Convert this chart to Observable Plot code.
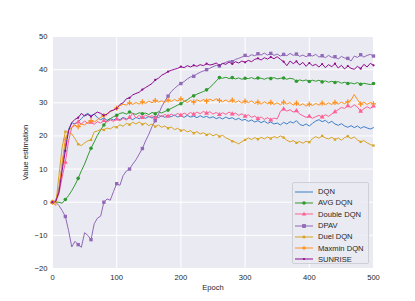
<!DOCTYPE html>
<html>
<head>
<meta charset="utf-8">
<script src="https://cdn.jsdelivr.net/npm/d3@7"></script>
<script src="https://cdn.jsdelivr.net/npm/@observablehq/plot@0.6"></script>
<style>
  html, body { margin: 0; padding: 0; background: #fff; }
  #wrap { position: relative; width: 415px; height: 301px; font-family: "Liberation Sans", Arial, sans-serif; }
  #legend { position: absolute; left: 292px; top: 182px; width: 77px; height: 82px; box-sizing: border-box;
    border: 1px solid #cfcfd6; border-radius: 2px; background: rgba(234,234,242,0.85); padding: 3px 0 0 2px; }
  .row { display: flex; align-items: center; height: 11.3px; font-size: 7.6px; color: #262626; }
  .row svg { margin-right: 5px; }
</style>
</head>
<body>
<div id="wrap"><div id="chart"></div><div id="legend"></div></div>
<script>
// Epochs sampled every 5 epochs (0..500)
const epochs = d3.range(0, 501, 5);
const xTicks = [0, 100, 200, 300, 400, 500];
const yTicks = [-20, -10, 0, 10, 20, 30, 40, 50];

const names = ["DQN", "AVG DQN", "Double DQN", "DPAV", "Duel DQN", "Maxmin DQN", "SUNRISE"];
const colors = ["#3d7fc8", "#2f9a2f", "#ff5f94", "#9169b8", "#d9a320", "#ff8f1c", "#8e0b8e"];

const dqn = [
  0, 0.5, 4, 11, 17, 22, 24, 23.6, 24.3, 25.2,
  26.3, 26.8, 26.1, 26.6, 25.5, 24.9, 25.4, 24.7, 25.2, 24.8,
  25.3, 24.9, 25.6, 25.1, 25.4, 24.9, 25.6, 25.2, 25.8, 25.3,
  25.9, 25.4, 26, 25.5, 26.1, 25.6, 26.2, 25.8, 26.3, 25.7,
  26.1, 25.6, 26.2, 25.7, 26, 25.5, 26.1, 25.6, 25.9, 25.4,
  25.8, 25.2, 25.6, 25.1, 25.7, 25.2, 25.5, 24.9, 25.3, 24.7,
  25, 24.4, 24.8, 24.2, 24.6, 24, 24.5, 23.8, 24.2, 23.6,
  23.9, 23.3, 24.1, 23.6, 24.3, 23.9, 24.6, 23.5, 23.1, 23.6,
  23, 23.8, 24.5, 24.9, 24.3, 24.7, 23.9, 24.4, 23.6, 23.2,
  23.7, 23, 22.6, 23.1, 22.5, 23, 22.3, 22.8, 22.4, 22.1,
  22.5
];
const avgDqn = [
  0, 0, 0, -0.3, 0.8, 2, 3.5, 5.2, 7.2, 9.5,
  11.5, 14, 16.3, 18.2, 20.2, 21.8, 23.3, 24.6, 25.2, 25.8,
  26.2, 26.8, 27, 26.6, 27.2, 26.8, 26.5, 27, 26.7, 26.9,
  26.4, 27.1, 26.7, 27.3, 26.9, 27.4, 27.8, 28.3, 28.8, 29.3,
  29.7, 30.4, 30.9, 31.6, 32.1, 32.6, 33, 33.4, 33.9, 34.6,
  35.5, 36.6, 37.6, 37.4, 37.7, 37.3, 37.6, 37.2, 37.5, 37.1,
  37.4, 37.3, 37.6, 37.2, 37.5, 37.4, 37.1, 37.5, 37.3, 37.6,
  37.2, 37.4, 37.5, 37.1, 37.4, 37.2, 36.5, 36.9, 36.6, 36.9,
  36.4, 36.8, 36.5, 36.8, 36.3, 36.6, 36.2, 36.5, 36.1, 36.4,
  35.9, 36.2, 35.8, 36, 35.7, 36.1, 35.6, 35.9, 35.7, 35.5,
  35.8
];
const doubleDqn = [
  0, 0.3, 2.5, 7.5, 12, 18.5, 22.5, 23.8, 24.2, 23.6,
  24.5, 23.8, 24.1, 23.5, 24.3, 23.9, 24.6, 24.2, 24.8, 24.4,
  25.1, 24.6, 25.3, 24.8, 25.6, 26.8, 25.4, 26.2, 25.5, 26.3,
  25.7, 26.1, 25.4, 26.4, 25.8, 26.5, 25.9, 26.6, 26.1, 26.8,
  26.2, 26.9, 26.4, 27.1, 26.5, 27.2, 26.7, 27.4, 26.8, 27.3,
  26.6, 27.1, 26.4, 27, 26.5, 27.2, 26.6, 26.9, 26.2, 26.7,
  25.9, 26.4, 25.6, 26, 25.2, 25.7, 25, 25.5, 24.8, 25.4,
  25.1, 27.4, 28.1, 27.5, 27.9, 27.2, 27.6, 26.6, 26.1, 25.6,
  25.9, 25.3, 25.8, 26.2, 25.7, 26.4, 25.9, 26.6, 27.3, 27.9,
  28.6, 28.3, 29.1, 28.6, 29.4, 28.7, 27.4, 28.2, 28.8, 28.3,
  29
];
const dpav = [
  0, 0, -1, -2.5, -4.3, -8.5, -13.5, -11.8, -12.8, -13.6,
  -9.2, -10, -11.3, -6.5, -4.8, -4.2, 0, 1, 0.6, 3.2,
  5.6, 5.1, 8, 9.4, 10, 11.5, 12.8, 14.5, 16.2, 18.5,
  20.5, 22.8, 24.6, 26.5, 28.8, 30.5, 32, 33.4, 34.3, 35.2,
  35.8, 36.4, 37.2, 37.8, 38, 38.7, 39.2, 39.6, 40, 40.4,
  40.9, 41.3, 41.1, 41.8, 42.2, 42.6, 42.4, 43.1, 43.4, 43.8,
  44.3, 43.9, 44.5, 44.2, 44.8, 44.4, 45, 44.4, 44.9, 44.3,
  44.7, 44.1, 44.6, 44.2, 44.9, 44.3, 44.7, 44, 44.4, 43.9,
  44.5, 44.1, 44.6, 43.8, 44.2, 43.6, 44.3, 43.7, 43.9, 43.2,
  44, 43.5, 43.4, 42.6, 44.1, 43.7, 44.5, 43.8, 44.3, 44.6,
  44.1
];
const duelDqn = [
  0, -1, 8, 16.5, 21.3, 21, 20.6, 19.2, 17.5, 17.1,
  17.9, 18.5, 18.8, 21.2, 21.5, 22, 21.8, 22.4, 22.1, 22.8,
  22.6, 23.4, 22.9, 23.8, 23.4, 24.1, 23.6, 24.2, 23.5, 23.9,
  23.1, 23.6, 22.8, 23.3, 22.6, 23, 22.3, 22.7, 21.9, 22.3,
  21.6, 21.9, 21.2, 21.6, 20.8, 21.3, 20.6, 21, 20.3, 20.7,
  20, 20.5, 19.8, 20.2, 19.4, 19, 18.4, 18.1, 17.6, 18.3,
  18.8, 19.4, 18.9, 19.5, 19, 19.6, 19.1, 19.7, 19.2, 19.8,
  19.4, 20, 19.5, 18.7, 18.2, 18.6, 17.9, 18.3, 17.8, 18.4,
  18.1, 19.2, 19.8, 19.3, 20, 19.4, 19.1, 19.6, 18.9, 19.4,
  18.7, 19.5, 19.9, 19.2, 19.7, 18.8, 18.2, 18.6, 17.9, 17.4,
  17.1
];
const maxminDqn = [
  0, 0.2, 3.5, 12, 19, 21.5, 22.6, 23.2, 22.8, 23.6,
  23.3, 24.1, 24.6, 24.2, 24.9, 25.6, 26.1, 26.7, 27.3, 27.8,
  28.4, 29.1, 29.6, 29.3, 30, 29.5, 30.1, 29.6, 30.3, 29.8,
  30.5, 30, 30.7, 30.2, 30.6, 30.1, 30.8, 30.4, 31, 30.5,
  31.2, 30.6, 30.1, 30.7, 30.2, 30.9, 30.4, 31, 30.5, 31.1,
  30.6, 31.2, 30.7, 30.3, 30.9, 30.2, 30.8, 30.1, 30.6, 29.9,
  30.5, 30, 30.6, 29.8, 30.2, 29.6, 30.3, 29.7, 30.1, 29.5,
  30, 29.4, 30.2, 29.6, 30.1, 29.3, 29.9, 29.2, 29.7, 29,
  29.6, 29.2, 29.8, 29.3, 29.9, 29.4, 30, 29.5, 30.1, 29.6,
  30.2, 29.7, 30.3, 30.8, 32.5, 31, 29.6, 30.2, 29.5, 30.1,
  29.7
];
const sunrise = [
  0, 0.2, 3, 9.5, 15.5, 21.5, 24, 25, 25.5, 26.8,
  26, 26.5, 25.8, 26.6, 27.2, 26.8, 26.2, 26.5, 27.5, 27.8,
  28.3, 29.5, 30, 31.2, 31.5, 32.4, 32.8, 33.2, 34, 34.6,
  35.2, 35.8, 36.9, 37.4, 38.3, 38.8, 39.4, 39.8, 40.1, 40.4,
  40.9, 40.6, 41.2, 40.8, 41.3, 41, 41.5, 41.2, 41.8, 41.4,
  41.6, 42, 41.3, 41.9, 41.6, 42.3, 41.7, 42.4, 42, 42.6,
  42.2, 42.8, 42.4, 43.1, 43.4, 42.9, 43.6, 43.2, 43.8, 43.3,
  43.9, 43.1, 42.4, 41.2, 42.6, 41.8, 42.5, 41.4, 42.2, 41,
  42, 41.2, 41.6, 40.8, 41.7, 40.6, 41.5, 40.9, 41.8, 40.5,
  41.3, 40.2, 41.1, 40.4, 40.1, 41, 40.3, 41.6, 40.8, 41.9,
  41.3
];

const seriesValues = [dqn, avgDqn, doubleDqn, dpav, duelDqn, maxminDqn, sunrise];
// marker styles per series (null = no marker)
const markers = [
  null,
  {symbol: "circle", r: 1.8},
  {symbol: "triangle", r: 1.8},
  {symbol: "square", r: 1.9},
  {symbol: "square", r: 1.3},
  {symbol: "plus", r: 1.8},
  {symbol: "circle", r: 1.1}
];

const rows = names.flatMap((n, k) => seriesValues[k].map((v, i) => ({epoch: epochs[i], value: v, name: n})));

const dotMarks = names.map((n, k) => {
  const m = markers[k];
  if (!m) return null;
  const pts = rows.filter(d => d.name === n && d.epoch % 20 === 0);
  if (m.symbol === "plus") {
    return Plot.dot(pts, {x: "epoch", y: "value", symbol: "plus", r: m.r, stroke: colors[k], strokeWidth: 1.2});
  }
  return Plot.dot(pts, {x: "epoch", y: "value", symbol: m.symbol, r: m.r, fill: colors[k], stroke: "none"});
}).filter(Boolean);

const chart = Plot.plot({
  width: 415,
  height: 301,
  marginLeft: 52,
  marginRight: 42,
  marginTop: 36,
  marginBottom: 33,
  x: {domain: [0, 500]},
  y: {domain: [-20, 50]},
  color: {domain: names, range: colors},
  style: {fontFamily: "'Liberation Sans', Arial, sans-serif", fontSize: "7.6px", color: "#262626", background: "white"},
  marks: [
    Plot.frame({fill: "#eaeaf2", stroke: null}),
    Plot.gridX({ticks: xTicks, stroke: "white", strokeOpacity: 1, strokeWidth: 1}),
    Plot.gridY({ticks: yTicks, stroke: "white", strokeOpacity: 1, strokeWidth: 1}),
    Plot.axisX({ticks: xTicks, tickSize: 0, tickPadding: 6, label: "Epoch", labelAnchor: "center", labelArrow: "none", labelOffset: 21}),
    Plot.axisY({ticks: yTicks, tickSize: 0, tickPadding: 5, label: "Value estimation", labelAnchor: "center", labelArrow: "none", labelOffset: 30}),
    Plot.line(rows, {x: "epoch", y: "value", z: "name", stroke: "name", strokeWidth: 1}),
    ...dotMarks
  ]
});
document.getElementById("chart").appendChild(chart);

// Legend
const legend = document.getElementById("legend");
names.forEach((n, k) => {
  const m = markers[k];
  let mk = "";
  if (m) {
    if (m.symbol === "circle") mk = `<circle cx="9" cy="4" r="${m.r}" fill="${colors[k]}"/>`;
    else if (m.symbol === "square") mk = `<rect x="${9 - m.r}" y="${4 - m.r}" width="${2 * m.r}" height="${2 * m.r}" fill="${colors[k]}"/>`;
    else if (m.symbol === "triangle") mk = `<path d="M9,1.8L11.2,5.6L6.8,5.6Z" fill="${colors[k]}"/>`;
    else if (m.symbol === "plus") mk = `<path d="M9,2V6M7,4H11" stroke="${colors[k]}" stroke-width="1.2"/>`;
  }
  const row = document.createElement("div");
  row.className = "row";
  row.innerHTML = `<svg width="18" height="8"><line x1="0" x2="18" y1="4" y2="4" stroke="${colors[k]}" stroke-width="1"/>${mk}</svg><span>${n}</span>`;
  legend.appendChild(row);
});
</script>
</body>
</html>
